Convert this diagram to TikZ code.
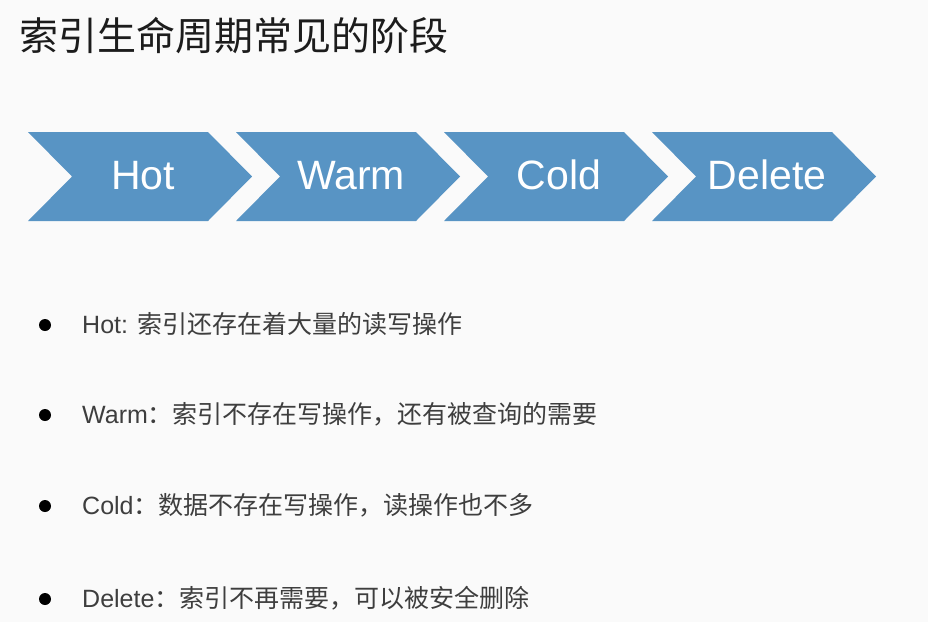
\documentclass[tikz,border=0pt]{standalone}
\usepackage{fontspec}
\setmainfont{Liberation Sans}
\newfontfamily\cjk{Noto Sans CJK SC}
\usepackage{tikz}
\definecolor{stageblue}{RGB}{88,148,196}
\definecolor{pagegray}{RGB}{250,250,250}
\definecolor{titlegray}{RGB}{28,28,28}
\definecolor{itemgray}{RGB}{62,62,62}

\begin{document}
\begin{tikzpicture}[
    x=1pt, y=-1pt,
    stage/.style={fill=stageblue},
    stage label/.style={text=white, font=\fontsize{41}{41}\selectfont, anchor=base, inner sep=0pt},
    title/.style={text=titlegray, font=\cjk\fontsize{39}{39}\selectfont, anchor=base west, inner sep=0pt},
    item/.style={text=itemgray, font=\fontsize{25}{25}\selectfont, anchor=base west, inner sep=0pt},
    bullet/.style={circle, fill=black, inner sep=0pt, minimum size=12pt}
    ]
\fill[pagegray] (0,0) rectangle (928,622);
\useasboundingbox (0,0) rectangle (928,622);
\node[title] (title) at (19,50) {索引生命周期常见的阶段};
\foreach \stagename [count=\i from 0] in {Hot,Warm,Cold,Delete}{
    \pgfmathsetmacro{\xl}{28+208*\i}
    \fill[stage] (\xl,132) -- ++(180,0) -- ++(44,44.5) -- ++(-44,44.5) -- ++(-180,0) -- ++(44,-44.5) -- cycle;
    \node[stage label] (\stagename) at (\xl+115,189) {\stagename};
}
\node[bullet] (dothot) at (45,325) {};
\node[item] (itemhot) at (82,333) {Hot: {\cjk 索引还存在着大量的读写操作}};
\node[bullet] (dotwarm) at (45,415) {};
\node[item] (itemwarm) at (82,423) {Warm{\cjk ：索引不存在写操作，还有被查询的需要}};
\node[bullet] (dotcold) at (45,506) {};
\node[item] (itemcold) at (82,514) {Cold{\cjk ：数据不存在写操作，读操作也不多}};
\node[bullet] (dotdelete) at (45,599) {};
\node[item] (itemdelete) at (82,607) {Delete{\cjk ：索引不再需要，可以被安全删除}};
\end{tikzpicture}
\end{document}
